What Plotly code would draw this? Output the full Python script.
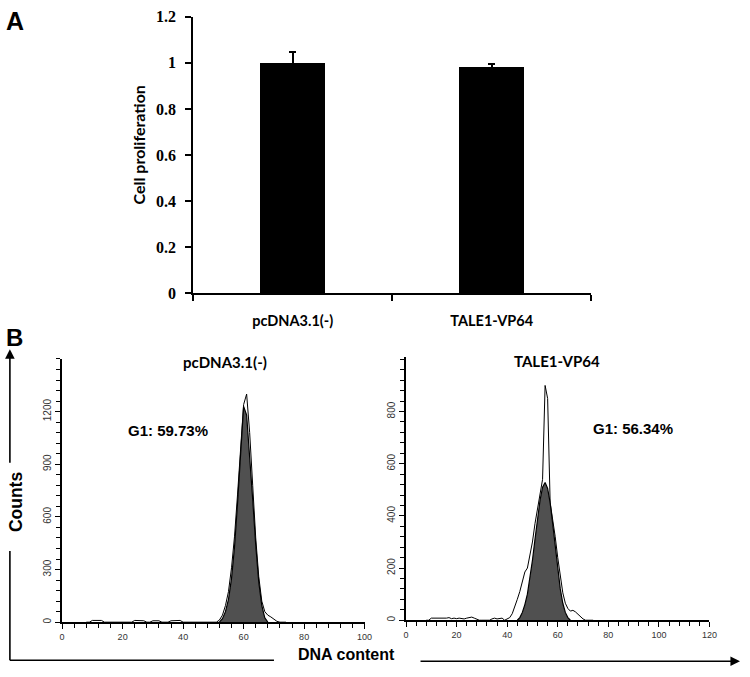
import plotly.graph_objects as go

W, H = 750, 677

# ---------------- Panel A data ----------------
groups = ["pcDNA3.1(-)", "TALE1-VP64"]
prolif = [1.0, 0.985]
prolif_err = [0.047, 0.01]
a_ticks = [0, 0.2, 0.4, 0.6, 0.8, 1.0, 1.2]

# ---------------- Panel B data ----------------
# left histogram (pcDNA3.1(-)), bins 8..74
left_bins = list(range(8, 75))
left_raw = [0, 0, 10, 10, 10, 10, 0, 0, 0, 0,          # 8-17
            0, 0, 0, 0, 0, 0, 10, 10, 10, 8,            # 18-27
            0, 0, 8, 10, 8, 0, 0, 0, 8, 10,             # 28-37
            10, 10, 0, 0, 0, 0, 0, 0, 0, 0,             # 38-47
            0, 0, 0, 0, 12, 40, 95, 175, 310, 490,      # 48-57
            730, 990, 1240, 1300, 1080, 780, 480, 260, 120, 60,  # 58-67
            40, 30, 15, 5, 0, 0, 0]                     # 68-74
left_fit_bins = list(range(52, 69))
left_fit = [0, 20, 60, 130, 250, 430, 680, 960, 1230, 1180,
            960, 700, 440, 230, 95, 25, 0]

# right histogram (TALE1-VP64), bins 8..74
right_bins = list(range(8, 75))
right_raw = [0, 0, 8, 8, 6, 8, 8, 6, 8, 10,             # 8-17
             6, 8, 6, 8, 6, 5, 8, 10, 12, 8,            # 18-27
             5, 0, 0, 0, 0, 0, 5, 8, 5, 6,              # 28-37
             8, 0, 5, 10, 25, 50, 80, 110, 150, 185,    # 38-47
             200, 245, 300, 370, 430, 490, 540, 900, 850, 450,  # 48-57
             390, 320, 240, 165, 105, 65, 45, 35, 38, 32,  # 58-67
             22, 12, 5, 0, 0, 0, 0]                     # 68-74
right_fit_bins = list(range(44, 66))
right_fit = [0, 10, 30, 60, 100, 160, 230, 310, 390, 460,
             510, 528, 505, 450, 370, 280, 195, 120, 65, 30,
             10, 0]

g1_peak_x = [61, 56]
g1_marker_y = [-22, -16]
left_yticks = [0, 300, 600, 900, 1200]
right_yticks = [0, 200, 400, 600, 800]
g1_labels = ["G1: 59.73%", "G1: 56.34%"]
b_titles = ["pcDNA3.1(-)", "TALE1-VP64"]


def px(x):
    return x / W


def py(y):
    return 1 - y / H


fig = go.Figure()

# Panel A bars
fig.add_trace(go.Bar(
    x=groups, y=prolif, width=0.33,
    marker=dict(color="black", line=dict(width=0)),
    error_y=dict(type="data", array=prolif_err, color="black", thickness=2, width=3.5),
    xaxis="x", yaxis="y", showlegend=False))

# Panel B left
fig.add_trace(go.Scatter(x=left_bins, y=left_raw, mode="lines", fill="tozeroy",
                         fillcolor="white", line=dict(color="black", width=1),
                         xaxis="x2", yaxis="y2", showlegend=False))
fig.add_trace(go.Scatter(x=left_fit_bins, y=left_fit, mode="lines", fill="tozeroy",
                         fillcolor="#505050", line=dict(color="black", width=1.2),
                         xaxis="x2", yaxis="y2", showlegend=False))
fig.add_trace(go.Scatter(x=[g1_peak_x[0]], y=[g1_marker_y[0]], mode="markers",
                         marker=dict(symbol="triangle-up", size=10, color="black"),
                         cliponaxis=False, xaxis="x2", yaxis="y2", showlegend=False))

# Panel B right
fig.add_trace(go.Scatter(x=right_bins, y=right_raw, mode="lines", fill="tozeroy",
                         fillcolor="white", line=dict(color="black", width=1),
                         xaxis="x3", yaxis="y3", showlegend=False))
fig.add_trace(go.Scatter(x=right_fit_bins, y=right_fit, mode="lines", fill="tozeroy",
                         fillcolor="#505050", line=dict(color="black", width=1.2),
                         xaxis="x3", yaxis="y3", showlegend=False))
fig.add_trace(go.Scatter(x=[g1_peak_x[1]], y=[g1_marker_y[1]], mode="markers",
                         marker=dict(symbol="triangle-up", size=10, color="black"),
                         cliponaxis=False, xaxis="x3", yaxis="y3", showlegend=False))

tickfont_b = dict(family="Liberation Sans", size=9, color="#333333")
tickfont_by = dict(family="Liberation Sans", size=10, color="#333333")


def minor(dt):
    return dict(tickmode="linear", tick0=0, dtick=dt, ticks="outside", ticklen=4,
                tickwidth=1.2, tickcolor="black", showgrid=False)


fig.update_layout(
    width=W, height=H,
    margin=dict(l=0, r=0, t=0, b=0),
    paper_bgcolor="white", plot_bgcolor="white",
    bargap=0,
    xaxis=dict(domain=[px(193), px(597)], anchor="y", range=[-0.5, 1.5],
               showline=True, linecolor="black", linewidth=2,
               ticks="outside", tickson="boundaries", ticklen=6, tickwidth=1.5, tickcolor="black",
               tickfont=dict(family="Lato", size=14.5, color="black", weight="bold"),
               ticklabelstandoff=13, showgrid=False, zeroline=False, fixedrange=True),
    yaxis=dict(domain=[py(292.7), py(9)], anchor="x", range=[0, 1.2],
               tickvals=a_ticks, ticklabeloverflow="allow",
               showline=True, linecolor="black", linewidth=2,
               ticks="outside", ticklen=6, tickwidth=1.5, tickcolor="black",
               tickfont=dict(family="Liberation Serif", size=16, color="black", weight="bold"),
               ticklabelstandoff=6, showgrid=False, zeroline=False),
    xaxis2=dict(domain=[px(60), px(367)], anchor="y2", range=[0, 100],
                tickmode="linear", dtick=20, tick0=0,
                showline=True, linecolor="black", linewidth=1.5,
                ticks="outside", ticklen=5, tickwidth=1.2, tickcolor="black",
                minor=minor(4),
                tickfont=tickfont_b, showgrid=False, zeroline=False),
    yaxis2=dict(domain=[py(630), py(360)], anchor="x2", range=[0, 1500],
                tickmode="array", tickvals=left_yticks, tickangle=-90,
                showline=True, linecolor="black", linewidth=1.5,
                ticks="outside", ticklen=5, tickwidth=1.2, tickcolor="black",
                minor=minor(60),
                tickfont=tickfont_by, showgrid=False, zeroline=False),
    xaxis3=dict(domain=[px(409), px(717)], anchor="y3", range=[0, 120],
                tickmode="linear", dtick=20, tick0=0,
                showline=True, linecolor="black", linewidth=1.5,
                ticks="outside", ticklen=5, tickwidth=1.2, tickcolor="black",
                minor=minor(4),
                tickfont=tickfont_b, showgrid=False, zeroline=False),
    yaxis3=dict(domain=[py(628), py(358)], anchor="x3", range=[0, 1009],
                tickmode="array", tickvals=right_yticks, tickangle=-90,
                showline=True, linecolor="black", linewidth=1.5,
                ticks="outside", ticklen=5, tickwidth=1.2, tickcolor="black",
                minor=minor(40),
                tickfont=tickfont_by, showgrid=False, zeroline=False),
)

ann = []
bold_sans = dict(family="Liberation Sans", color="black", weight="bold")
# panel letters
ann.append(dict(x=px(1), y=py(13), text="A", font=dict(size=25, **bold_sans)))
ann.append(dict(x=px(1), y=py(338), text="B", font=dict(size=24, **bold_sans)))
# y title panel A
ann.append(dict(x=px(138), y=py(140), text="Cell proliferation", textangle=-90,
                font=dict(family="Lato", size=16, color="black", weight="bold"),
                xanchor="center"))
# panel B titles
ann.append(dict(x=px(225), y=py(363), text=b_titles[0], xanchor="center",
                font=dict(family="Lato", size=15, color="black", weight="bold")))
ann.append(dict(x=px(562), y=py(362), text=b_titles[1], xanchor="center",
                font=dict(family="Lato", size=15, color="black", weight="bold")))
ann.append(dict(x=px(167), y=py(433), text=g1_labels[0], xanchor="center",
                font=dict(size=15, **bold_sans)))
ann.append(dict(x=px(639), y=py(431), text=g1_labels[1], xanchor="center",
                font=dict(size=15, **bold_sans)))
# Counts / DNA content
ann.append(dict(x=px(13), y=py(506), text="Counts", textangle=-90, xanchor="center",
                font=dict(size=17.5, **bold_sans)))
ann.append(dict(x=px(349), y=py(663), text="DNA content", xanchor="center",
                font=dict(size=16, **bold_sans)))
for a in ann:
    a.setdefault("xanchor", "left")
    a.update(xref="paper", yref="paper", showarrow=False, yanchor="middle")

# arrows
ann.append(dict(xref="paper", yref="paper", x=px(7), y=py(350), ax=0, ay=115,
                text="", showarrow=True, arrowhead=2, arrowsize=1.2, arrowwidth=1.6,
                arrowcolor="black"))
ann.append(dict(xref="paper", yref="paper", x=px(748), y=py(670), ax=-321, ay=0,
                text="", showarrow=True, arrowhead=2, arrowsize=1.2, arrowwidth=1.6,
                arrowcolor="black"))
fig.update_layout(annotations=ann)

fig.update_layout(shapes=[
    dict(type="line", xref="paper", yref="paper", x0=px(7), x1=px(7), y0=py(557), y1=py(669),
         line=dict(color="black", width=1.6)),
    dict(type="line", xref="paper", yref="paper", x0=px(7), x1=px(275), y0=py(669), y1=py(669),
         line=dict(color="black", width=1.6)),
])

fig.write_html("out.html", config={"displayModeBar": False},
               post_script="document.body.style.margin='0';document.body.style.overflow='hidden';")
